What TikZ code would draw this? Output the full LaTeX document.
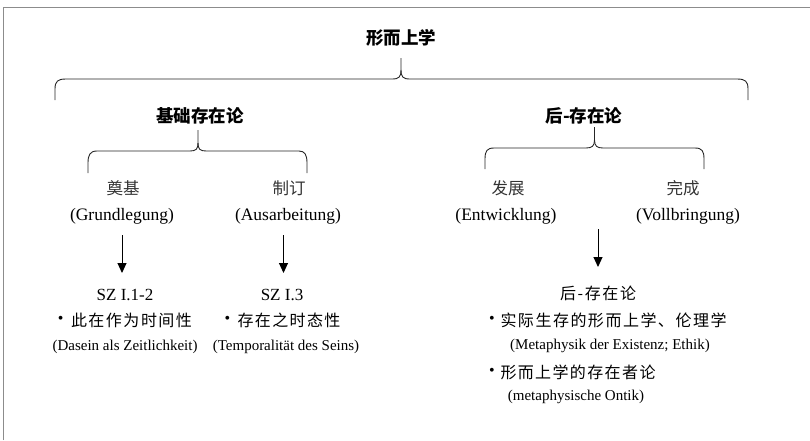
\documentclass[tikz,border=0pt]{standalone}
\usepackage{fontspec}
\setmainfont{Liberation Serif}
\newfontfamily\cjk{Noto Sans CJK SC}
\usetikzlibrary{arrows.meta}
\tikzset{
  frameline/.style={draw=black!45, line width=1.5pt},
  bracepath/.style={draw=black!85, line width=0.9pt},
  arr/.style={draw=black, line width=1pt, -{Triangle[width=9pt,length=10pt]}},
  head/.style={font=\cjk\bfseries\fontsize{17.5}{20}\selectfont},
  subzh/.style={font=\cjk\fontsize{16.5}{19}\selectfont, text=black!80},
  lat/.style={font=\fontsize{17.5}{20}\selectfont},
  szlabel/.style={font=\fontsize{17}{20}\selectfont},
  zh/.style={font=\cjk\fontsize{16}{18}\selectfont, anchor=west},
  smalllat/.style={font=\fontsize{15}{18}\selectfont},
  bul/.style={font=\fontsize{16}{18}\selectfont},
  every node/.style={inner sep=0pt, outer sep=0pt}
}
\newcommand\hs{\hfill}
\begin{document}
\begin{tikzpicture}[x=1pt,y=-1pt]
\useasboundingbox (0,0) rectangle (810,440);
% frame
\draw[frameline] (3.3,440) -- (3.3,7.5) -- (810,7.5);
% headings
\node[head] (meta) at (401,38) {形而上学};
\node[head] (fund) at (200,116) {基础存在论};
\node[head] (post) at (584,116) {后-存在论};
% big brace
\draw[bracepath] (55,100) -- (55,89) .. controls (55,81) and (58,79) .. (66,79) -- (392,79) .. controls (399,79) and (401,77) .. (401,70) -- (401,58);
\draw[bracepath] (401,70) .. controls (401,77) and (403,79) .. (410,79) -- (737,79) .. controls (745,79) and (748,81) .. (748,89) -- (748,100);
% left brace
\draw[bracepath] (88,173) -- (88,163) .. controls (88,155) and (90,151) .. (97,151) -- (190,151) .. controls (196,151) and (198,149) .. (198,143) -- (198,130);
\draw[bracepath] (198,143) .. controls (198,149) and (200,151) .. (206,151) -- (299,151) .. controls (305,151) and (307,155) .. (307,163) -- (307,173);
% right brace
\draw[bracepath] (485,169) -- (485,159) .. controls (485,151) and (487,148) .. (494,148) -- (586,148) .. controls (592,148) and (594.5,146) .. (594.5,140) -- (594.5,127);
\draw[bracepath] (594.5,140) .. controls (594.5,146) and (597,148) .. (603,148) -- (695,148) .. controls (702,148) and (704,151) .. (704,159) -- (704,169);
% second level
\node[subzh] (dianji) at (123,188) {奠基};
\node[lat] (grund) at (122,216) {(Grundlegung)};
\node[subzh] (zhiding) at (289,188) {制订};
\node[lat] (ausarb) at (288,216) {(Ausarbeitung)};
\node[subzh] (fazhan) at (508,188) {发展};
\node[lat] (entw) at (506,216) {(Entwicklung)};
\node[subzh] (wancheng) at (683,188) {完成};
\node[lat] (vollb) at (688,216) {(Vollbringung)};
% arrows
\coordinate (a1s) at (122,235); \coordinate (a1e) at (122,273);
\coordinate (a2s) at (283.5,235); \coordinate (a2e) at (283.5,273);
\coordinate (a3s) at (598,229); \coordinate (a3e) at (598,267);
\draw[arr] (a1s) -- (a1e);
\draw[arr] (a2s) -- (a2e);
\draw[arr] (a3s) -- (a3e);
% left results
\node[szlabel] (sz1) at (125,295) {SZ I.1-2};
\node[bul] (b1) at (60.7,320) {•};
\node[zh] (t1) at (71,320) {\makebox[121pt]{此\hs 在\hs 作\hs 为\hs 时\hs 间\hs 性}};
\node[smalllat] (d1) at (125,347) {(Dasein als Zeitlichkeit)};
\node[szlabel] (sz2) at (282,295) {SZ I.3};
\node[bul] (b2) at (227.3,320) {•};
\node[zh] (t2) at (237.5,320) {\makebox[103pt]{存\hs 在\hs 之\hs 时\hs 态\hs 性}};
\node[smalllat] (d2) at (286,347) {(Temporalität des Seins)};
% right results
\node[zh, anchor=center] (post2) at (598,293) {\makebox[76pt]{后\hs -\hs 存\hs 在\hs 论}};
\node[bul] (b3) at (492,320) {•};
\node[zh] (t3) at (500.5,320) {\makebox[226pt]{实\hs 际\hs 生\hs 存\hs 的\hs 形\hs 而\hs 上\hs 学\hs 、\hs 伦\hs 理\hs 学}};
\node[smalllat] (d3) at (610,346) {(Metaphysik der Existenz; Ethik)};
\node[bul] (b4) at (492,372) {•};
\node[zh] (t4) at (500.5,372) {\makebox[155pt]{形\hs 而\hs 上\hs 学\hs 的\hs 存\hs 在\hs 者\hs 论}};
\node[smalllat] (d4) at (576,397) {(metaphysische Ontik)};
\end{tikzpicture}
\end{document}
